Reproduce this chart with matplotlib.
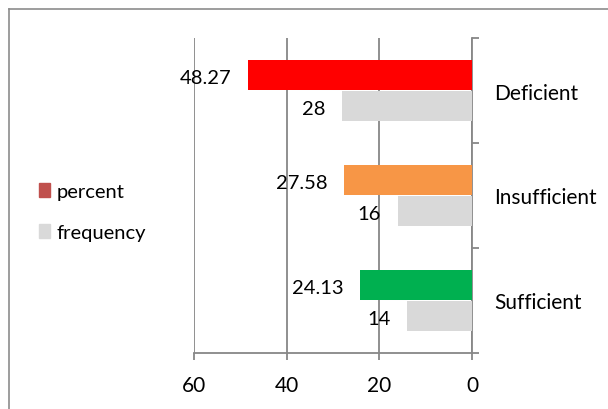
import matplotlib
matplotlib.use('Agg')
import matplotlib.pyplot as plt
from matplotlib.patches import Patch
from matplotlib.lines import Line2D

plt.rcParams['font.family'] = ['Lato', 'DejaVu Sans']

# data
categories = ['Sufficient', 'Insufficient', 'Deficient']
percent = [24.13, 27.58, 48.27]
frequency = [14, 16, 28]
percent_colors = ['#00B050', '#F79646', '#FF0000']
freq_color = '#D9D9D9'
legend_percent_color = '#C0504D'
grid_color = '#878787'

fig = plt.figure(figsize=(6.08, 4.10), dpi=100)
ax = fig.add_axes([194 / 608, 1 - 354 / 410, 278 / 608, 315 / 410])

ypos = list(range(len(categories)))
h = 0.286
off = 0.148
ax.barh([y + off for y in ypos], percent, height=h, color=percent_colors, zorder=3)
ax.barh([y - off for y in ypos], frequency, height=h, color=freq_color, zorder=3)

for y, v in zip(ypos, percent):
    ax.text(v + 3.6, y + off - 0.02, f'{v:.2f}', ha='right', va='center', fontsize=14.5)
for y, v in zip(ypos, frequency):
    ax.text(v + 3.6, y - off - 0.02, f'{v}', ha='right', va='center', fontsize=14.5)

ax.set_xlim(60, 0)
ax.set_ylim(-0.5, 2.5)
ax.set_xticks([60, 40, 20, 0])
ax.xaxis.grid(True, color=grid_color, linewidth=1.3, zorder=0)
ax.set_axisbelow(True)

ax.yaxis.tick_right()
ax.set_yticks(ypos)
ax.set_yticklabels(categories, fontsize=15)
ax.set_yticks([-0.5, 0.5, 1.5, 2.5], minor=True)
ax.tick_params(axis='y', which='major', length=0, pad=16)
ax.tick_params(axis='y', which='minor', length=5, color=grid_color, width=1.3)
ax.tick_params(axis='x', length=5, color=grid_color, width=1.3, labelsize=15, pad=11)

for s in ['top', 'left']:
    ax.spines[s].set_visible(False)
for s in ['right', 'bottom']:
    ax.spines[s].set_color(grid_color)
    ax.spines[s].set_linewidth(1.3)

handles = [Patch(color=legend_percent_color), Patch(color=freq_color)]
fig.legend(handles, ['percent', 'frequency'], loc='center left',
           bbox_to_anchor=(0.035, 0.48), frameon=False, handlelength=0.55,
           handleheight=0.7, handletextpad=0.3, labelspacing=1.2, fontsize=14.5)

# outer chart border
bx = 9 / 608
by = 1 - 10 / 410
fig.add_artist(Line2D([bx, bx], [0, by], transform=fig.transFigure, color='#8c8c8c', linewidth=1.2))
fig.add_artist(Line2D([bx, 1], [by, by], transform=fig.transFigure, color='#8c8c8c', linewidth=1.2))

fig.savefig('out.png', dpi=100)
